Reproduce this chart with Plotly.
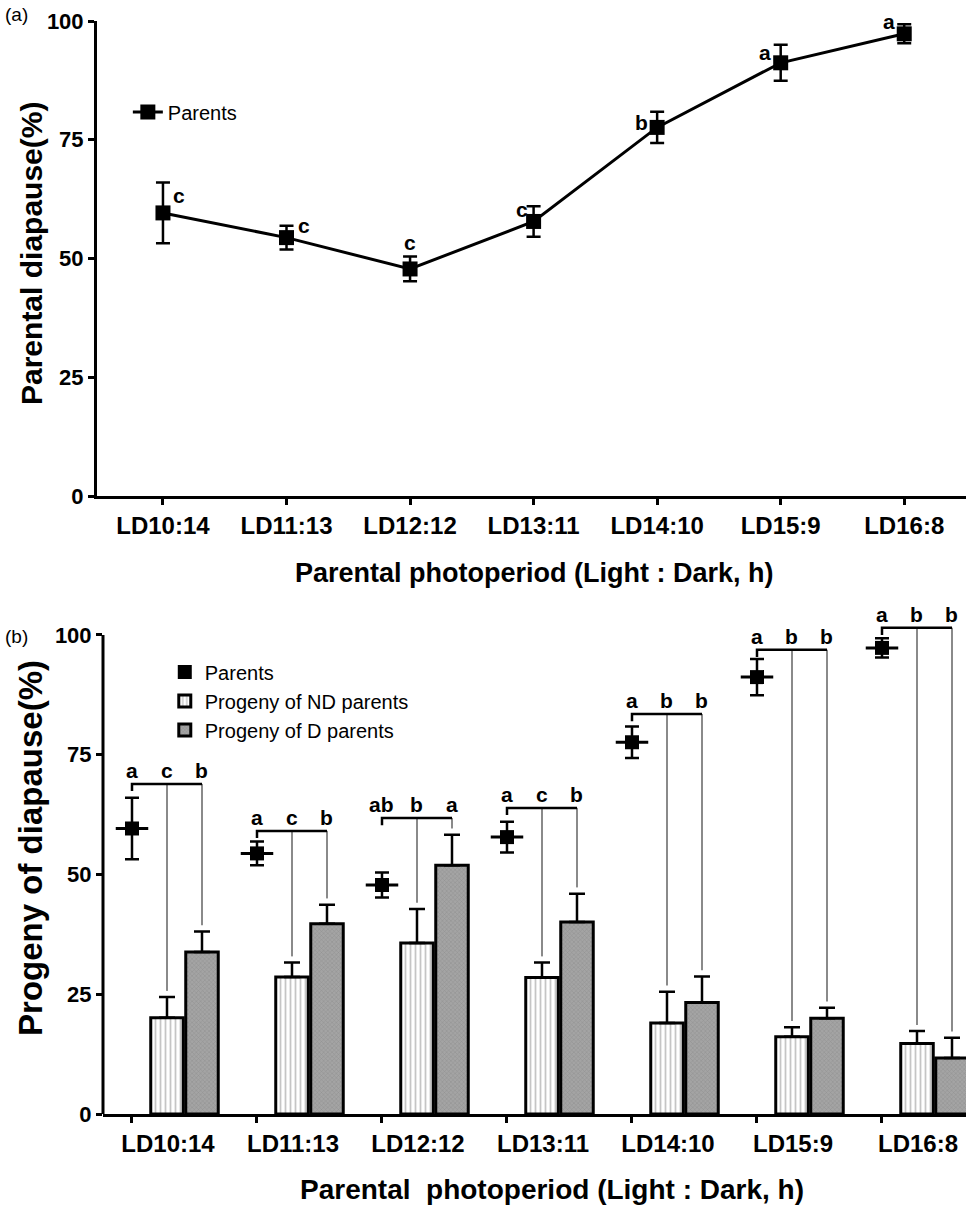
import plotly.graph_objects as go

# ---------------- data ----------------
categories = ["LD10:14", "LD11:13", "LD12:12", "LD13:11", "LD14:10", "LD15:9", "LD16:8"]
parents_mean = [59.6, 54.4, 47.8, 57.8, 77.6, 91.2, 97.3]
parents_se = [6.4, 2.5, 2.6, 3.2, 3.3, 3.8, 2.0]
nd_mean = [20.1, 28.6, 35.7, 28.5, 19.0, 16.1, 14.7]
nd_se = [4.3, 3.0, 7.1, 3.1, 6.5, 2.0, 2.6]
d_mean = [33.8, 39.7, 51.9, 40.1, 23.3, 20.0, 11.7]
d_se = [4.3, 4.0, 6.4, 5.9, 5.4, 2.2, 4.2]
parents_letters = ["c", "c", "c", "c", "b", "a", "a"]
group_letters = [["a", "c", "b"], ["a", "c", "b"], ["ab", "b", "a"], ["a", "c", "b"],
                 ["a", "b", "b"], ["a", "b", "b"], ["a", "b", "b"]]
bracket_heights = [68.9, 59.1, 61.8, 63.9, 83.5, 96.9, 101.5]
y_ticks = [0, 25, 50, 75, 100]

# ---------------- style ----------------
FONT = "Liberation Sans, Arial, sans-serif"
BLACK = "#000000"
GRAY_LINE = "#8a8a8a"
P_OFF, ND_OFF, D_OFF = -0.28, 0.0, 0.28
BAR_W = 0.26
letter_shift = [(16, 17), (17, 12), (0, 26), (-12, 12), (-16, 5), (-16, 10), (-15, 12)]

Y2_RANGE = [0, 105]
Y2_DOMAIN = [0, 0.4602]
X2_DOMAIN = [0.0069, 1]

idx = list(range(len(categories)))

fig = go.Figure()

# ---------------- panel (a) ----------------
fig.add_trace(go.Scatter(
    x=idx, y=parents_mean, mode="lines+markers", name="Parents",
    line=dict(color=BLACK, width=3),
    marker=dict(symbol="square", size=15, color=BLACK),
    error_y=dict(type="data", array=parents_se, color=BLACK, thickness=2.5, width=7),
    cliponaxis=False, xaxis="x", yaxis="y", legend="legend",
))

# ---------------- panel (b) ----------------
xp = [i + P_OFF for i in idx]
xnd = [i + ND_OFF for i in idx]
xd = [i + D_OFF for i in idx]

fig.add_trace(go.Bar(
    x=xnd, y=nd_mean, width=BAR_W, name="Progeny of ND parents", legendrank=2,
    marker=dict(color="white", line=dict(color=BLACK, width=3),
                pattern=dict(shape="|", size=5, solidity=0.35, fgcolor="#8c8c8c", bgcolor="white")),
    error_y=dict(type="data", array=nd_se, arrayminus=[0] * len(nd_se), symmetric=False,
                 color=BLACK, thickness=2.5, width=8),
    xaxis="x2", yaxis="y2", legend="legend2",
))
fig.add_trace(go.Bar(
    x=xd, y=d_mean, width=BAR_W, name="Progeny of D parents", legendrank=3,
    marker=dict(color="#a0a0a0", line=dict(color=BLACK, width=3),
                pattern=dict(shape="x", size=3, solidity=0.3, fgcolor="#7a7a7a", bgcolor="#a4a4a4")),
    error_y=dict(type="data", array=d_se, arrayminus=[0] * len(d_se), symmetric=False,
                 color=BLACK, thickness=2.5, width=8),
    xaxis="x2", yaxis="y2", legend="legend2",
))
fig.add_trace(go.Scatter(
    x=xp, y=parents_mean, mode="markers", name="Parents", legendrank=1,
    marker=dict(symbol="square", size=14, color=BLACK),
    error_y=dict(type="data", array=parents_se, color=BLACK, thickness=2.5, width=7),
    error_x=dict(type="constant", value=0.13, color=BLACK, thickness=3, width=0),
    cliponaxis=False, xaxis="x2", yaxis="y2", legend="legend2",
))

# brackets (derived from values)
for i in idx:
    h = bracket_heights[i]
    gx, gy = [], []
    for xx, top in ((xnd[i], nd_mean[i] + nd_se[i]), (xd[i], d_mean[i] + d_se[i])):
        gx += [xx, xx, None]
        gy += [h, top + 1.3, None]
    fig.add_trace(go.Scatter(x=gx, y=gy, mode="lines", line=dict(color=GRAY_LINE, width=2),
                             showlegend=False, hoverinfo="skip", xaxis="x2", yaxis="y2"))
    fig.add_trace(go.Scatter(x=[xp[i], xp[i], xd[i]], y=[h - 1.5, h, h], mode="lines",
                             line=dict(color=BLACK, width=2.5),
                             showlegend=False, hoverinfo="skip", xaxis="x2", yaxis="y2"))

annotations = []
# letters panel a
for i in idx:
    dx, dy = letter_shift[i]
    annotations.append(dict(x=i, y=parents_mean[i], xref="x", yref="y", text=parents_letters[i],
                            showarrow=False, xshift=dx, yshift=dy,
                            font=dict(family=FONT, size=21, color=BLACK, weight="bold")))
# letters panel b
for i in idx:
    for xx, t in zip((xp[i], xnd[i], xd[i]), group_letters[i]):
        annotations.append(dict(x=xx, y=bracket_heights[i], xref="x2", yref="y2", text=t,
                                showarrow=False, yshift=13,
                                font=dict(family=FONT, size=21, color=BLACK, weight="bold")))


def paper_text(text, x, y, size, bold=True, angle=0):
    f = dict(family=FONT, size=size, color=BLACK)
    if bold:
        f["weight"] = "bold"
    return dict(text=text, x=x, y=y, xref="paper", yref="paper", showarrow=False,
                xanchor="center", yanchor="middle", textangle=angle, font=f)


annotations += [
    paper_text("(a)", -0.0932, 1.0064, 19, bold=False),
    paper_text("(b)", -0.0932, 0.4373, 19, bold=False),
    paper_text("Parental diapause(%)", -0.0760, 0.7877, 30, angle=-90),
    paper_text("Progeny of diapause(%)", -0.0760, 0.2434, 33, angle=-90),
    paper_text("Parental photoperiod (Light : Dark, h)", 0.504, 0.495, 27),
    paper_text("Parental&nbsp; photoperiod (Light : Dark, h)", 0.5236, -0.0695, 28),
]

axis_common = dict(showgrid=False, zeroline=False, linecolor=BLACK, linewidth=3,
                   ticks="outside", ticklen=6, tickwidth=3, tickcolor=BLACK)

# y-axis line of panel (b) stops at 100 (brackets rise above it)
y_line_top = Y2_DOMAIN[0] + (100 - Y2_RANGE[0]) / (Y2_RANGE[1] - Y2_RANGE[0]) * (Y2_DOMAIN[1] - Y2_DOMAIN[0])

fig.update_layout(
    width=966, height=1205,
    margin=dict(l=97, r=0, t=21, b=91),
    paper_bgcolor="white", plot_bgcolor="white",
    font=dict(family=FONT, color=BLACK),
    barmode="overlay",
    showlegend=True,
    xaxis=dict(domain=[0, 1], range=[-0.534, 6.5], anchor="y", showline=True,
               tickvals=idx, ticktext=categories,
               tickfont=dict(family=FONT, size=24, color=BLACK, weight="bold"), **axis_common),
    yaxis=dict(domain=[0.5654, 1], range=[0, 100], anchor="x", showline=True,
               tickvals=y_ticks,
               tickfont=dict(family=FONT, size=22, color=BLACK, weight="bold"), **axis_common),
    xaxis2=dict(domain=X2_DOMAIN, range=[-0.512, 6.392], anchor="y2", showline=True,
                tickvals=xp, ticktext=categories, ticklabelshift=36,
                tickfont=dict(family=FONT, size=24, color=BLACK, weight="bold"), **axis_common),
    yaxis2=dict(domain=Y2_DOMAIN, range=Y2_RANGE, anchor="x2", showline=False,
                tickvals=y_ticks,
                tickfont=dict(family=FONT, size=22, color=BLACK, weight="bold"), **axis_common),
    legend=dict(x=0.0355, y=0.9167, xanchor="left", yanchor="middle", bgcolor="rgba(0,0,0,0)",
                font=dict(family=FONT, size=20, color=BLACK)),
    legend2=dict(x=0.078, y=0.3779, xanchor="left", yanchor="middle", bgcolor="rgba(0,0,0,0)",
                 traceorder="normal",
                 font=dict(family=FONT, size=20, color=BLACK)),
    annotations=annotations,
    shapes=[dict(type="line", xref="paper", x0=X2_DOMAIN[0], x1=X2_DOMAIN[0],
                 yref="paper", y0=Y2_DOMAIN[0], y1=y_line_top,
                 line=dict(color=BLACK, width=3), layer="above")],
)

fig.write_html("out.html", config={"displayModeBar": False},
               post_script="document.body.style.margin='0px';")
